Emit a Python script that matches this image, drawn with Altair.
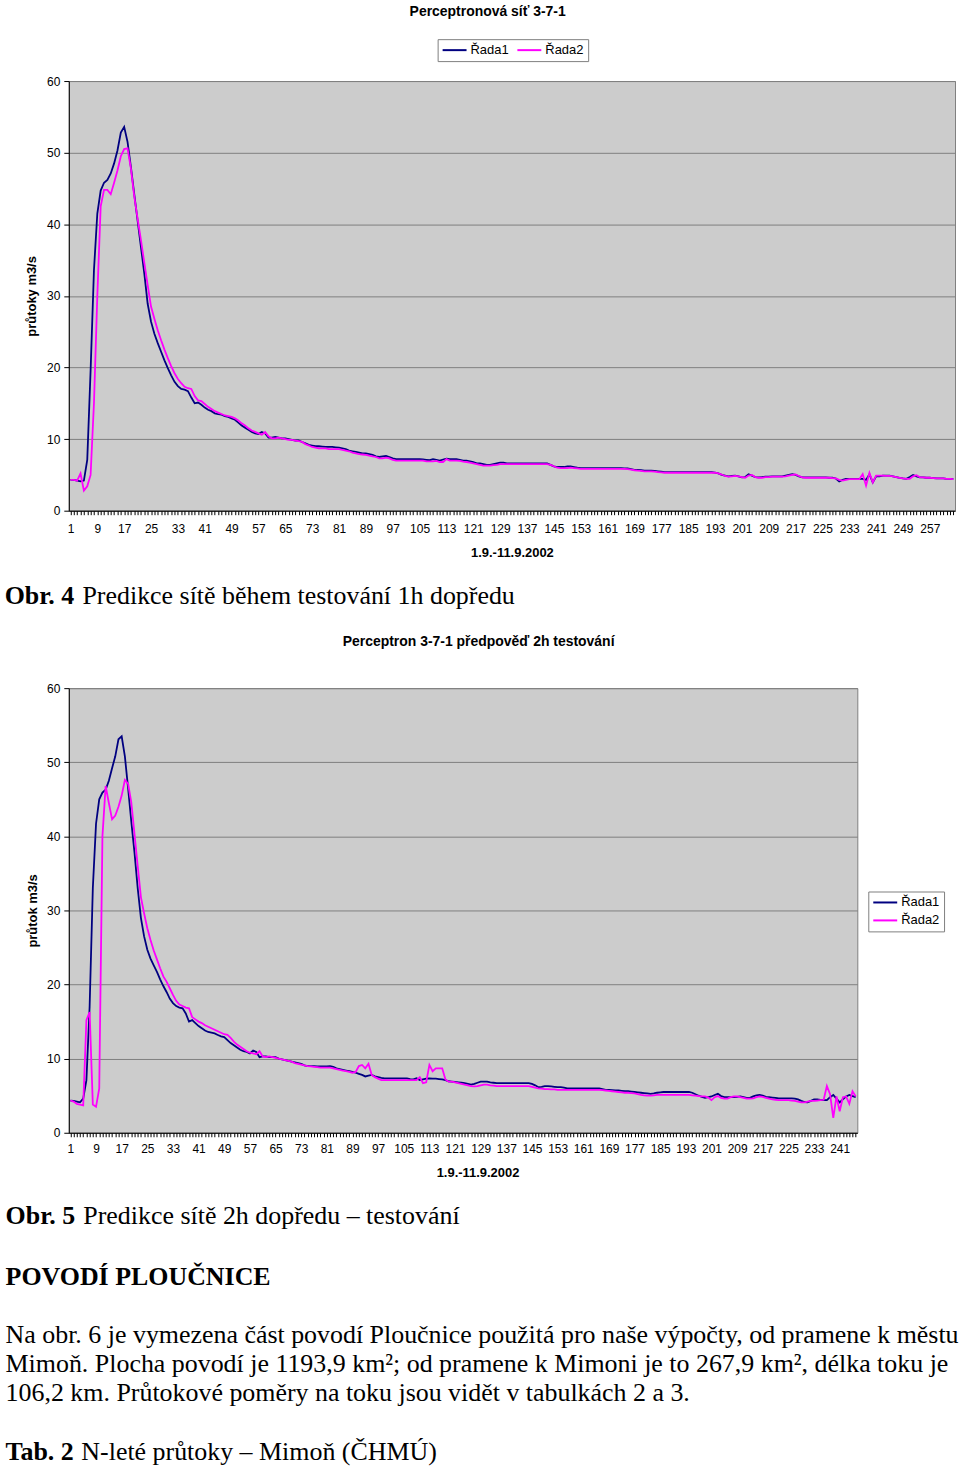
import altair as alt
import pandas as pd

SANS = "Liberation Sans"
SERIF = "Liberation Serif"
NAVY = "#000080"
MAGENTA = "#FF00FF"
PLOT_BG = "#CCCCCC"
GRID = "#808080"

series_names = ["Řada1", "Řada2"]

# ---- Obr. 4 : Perceptronová síť 3-7-1 (1h dopředu), 264 hodin ----
c1_rada1 = [
    4.3, 4.3, 4.2, 4.1, 4.2, 7.1, 19.6, 33.6, 41.5, 44.7,
    45.8, 46.2, 47.1, 48.5, 50.3, 52.8, 53.6, 51.5, 48.0, 44.2,
    40.5, 36.8, 33.1, 28.9, 26.4, 24.7, 23.4, 22.2, 21.0, 19.9,
    18.9, 18.0, 17.4, 17.0, 16.9, 16.7, 15.8, 15.0, 15.1, 14.8,
    14.4, 14.1, 13.9, 13.6, 13.5, 13.4, 13.2, 13.1, 12.9, 12.7,
    12.3, 11.9, 11.6, 11.3, 11.0, 10.8, 10.7, 11.0, 10.8, 10.2,
    10.2, 10.3, 10.2, 10.1, 10.1, 10.0, 9.9, 9.8, 9.8, 9.6,
    9.4, 9.2, 9.1, 9.0, 9.0, 8.95, 8.9, 8.9, 8.9, 8.85,
    8.8, 8.7, 8.6, 8.4, 8.3, 8.2, 8.1, 8.0, 8.0, 7.9,
    7.8, 7.6, 7.5, 7.6, 7.65, 7.5, 7.3, 7.2, 7.2, 7.2,
    7.2, 7.2, 7.2, 7.2, 7.2, 7.15, 7.1, 7.05, 7.2, 7.1,
    7.0, 7.15, 7.25, 7.2, 7.2, 7.2, 7.1, 7.0, 7.0, 6.9,
    6.8, 6.6, 6.6, 6.5, 6.4, 6.4, 6.5, 6.6, 6.7, 6.7,
    6.6, 6.6, 6.6, 6.6, 6.6, 6.6, 6.6, 6.6, 6.6, 6.6,
    6.6, 6.6, 6.6, 6.4, 6.2, 6.1, 6.1, 6.1, 6.2, 6.2,
    6.1, 6.0, 5.95, 5.95, 5.95, 5.95, 5.95, 5.95, 5.95, 5.95,
    5.95, 5.95, 5.95, 5.95, 5.95, 5.9, 5.9, 5.8, 5.7, 5.7,
    5.65, 5.6, 5.6, 5.6, 5.55, 5.5, 5.45, 5.4, 5.4, 5.4,
    5.4, 5.4, 5.4, 5.4, 5.4, 5.4, 5.4, 5.4, 5.4, 5.4,
    5.4, 5.4, 5.3, 5.2, 5.0, 4.9, 4.8, 4.85, 4.9, 4.8,
    4.65, 4.7, 5.1, 4.9, 4.7, 4.65, 4.7, 4.75, 4.75, 4.8,
    4.8, 4.8, 4.8, 4.9, 5.0, 5.1, 5.0, 4.8, 4.65, 4.65,
    4.65, 4.65, 4.65, 4.65, 4.65, 4.65, 4.6, 4.6, 4.5, 4.1,
    4.3, 4.45, 4.45, 4.45, 4.45, 4.45, 4.45, 4.3, 5.1, 3.95,
    4.8, 4.8, 4.9, 4.9, 4.9, 4.8, 4.7, 4.6, 4.5, 4.45,
    4.7, 5.0, 4.8, 4.65, 4.65, 4.6, 4.6, 4.55, 4.5, 4.5,
    4.5, 4.45, 4.45, 4.45,
]
c1_rada2 = [
    4.3, 4.3, 4.2, 5.2, 2.8, 3.4, 5.0, 15.0, 30.0, 42.5,
    44.8, 44.8, 44.2, 45.8, 47.5, 49.5, 50.5, 50.6, 47.8, 43.9,
    40.8, 37.8, 34.6, 31.5, 28.5, 26.8, 25.2, 23.8, 22.5, 21.3,
    20.2, 19.2, 18.4, 17.8, 17.3, 17.1, 17.0, 16.0, 15.4, 15.3,
    14.9, 14.5, 14.2, 13.9, 13.7, 13.5, 13.3, 13.2, 13.1, 12.9,
    12.6, 12.2, 11.9, 11.5, 11.2, 11.0, 10.8, 10.6, 11.0, 10.4,
    10.1, 10.1, 10.2, 10.1, 10.0, 9.9, 9.9, 9.8, 9.7, 9.6,
    9.3, 9.1, 8.9, 8.8, 8.7, 8.7, 8.7, 8.6, 8.6, 8.6,
    8.6, 8.5, 8.4, 8.3, 8.1, 8.0, 7.9, 7.85, 7.8, 7.7,
    7.6, 7.5, 7.3, 7.3, 7.4, 7.3, 7.1, 7.0, 7.0, 7.0,
    7.0, 7.0, 7.0, 7.0, 7.0, 7.0, 6.9, 6.9, 6.9, 6.95,
    6.8, 6.8, 7.2, 7.0, 7.0, 7.0, 6.95, 6.85, 6.8, 6.7,
    6.6, 6.5, 6.4, 6.3, 6.3, 6.3, 6.35, 6.4, 6.5, 6.5,
    6.5, 6.5, 6.5, 6.5, 6.5, 6.5, 6.5, 6.5, 6.5, 6.5,
    6.5, 6.5, 6.5, 6.4, 6.2, 6.0, 5.95, 5.95, 5.95, 6.0,
    5.95, 5.9, 5.85, 5.85, 5.85, 5.85, 5.85, 5.85, 5.85, 5.85,
    5.85, 5.85, 5.85, 5.85, 5.85, 5.85, 5.8, 5.75, 5.65, 5.6,
    5.55, 5.5, 5.5, 5.5, 5.45, 5.4, 5.35, 5.3, 5.3, 5.3,
    5.3, 5.3, 5.3, 5.3, 5.3, 5.3, 5.3, 5.3, 5.3, 5.3,
    5.3, 5.3, 5.3, 5.2, 5.05, 4.85, 4.75, 4.8, 4.85, 4.8,
    4.7, 4.6, 4.9, 5.0, 4.7, 4.6, 4.6, 4.7, 4.7, 4.75,
    4.75, 4.75, 4.75, 4.8, 4.9, 5.0, 5.05, 4.85, 4.65, 4.6,
    4.6, 4.6, 4.6, 4.6, 4.6, 4.6, 4.6, 4.55, 4.5, 4.3,
    4.2, 4.3, 4.4, 4.4, 4.4, 4.4, 5.1, 3.5, 5.3, 3.95,
    4.9, 4.9, 4.9, 4.85, 4.85, 4.8, 4.7, 4.6, 4.5, 4.45,
    4.45, 4.8, 4.95, 4.7, 4.65, 4.6, 4.6, 4.55, 4.5, 4.5,
    4.5, 4.45, 4.45, 4.4,
]

# ---- Obr. 5 : Perceptron 3-7-1 předpověď 2h, 246 hodin ----
c2_rada1 = [
    4.35, 4.3, 4.2, 4.1, 4.6, 7.1, 17.0, 33.0, 41.7, 45.0,
    45.9, 46.3, 47.5, 49.2, 50.8, 53.1, 53.5, 50.8, 46.5, 42.0,
    37.8, 33.0, 29.0, 26.5, 24.7, 23.5, 22.6, 21.7, 20.7, 19.8,
    19.0, 18.1, 17.5, 17.1, 16.9, 16.8, 16.1, 15.0, 15.2, 14.8,
    14.4, 14.1, 13.8, 13.6, 13.5, 13.4, 13.2, 13.0, 12.9, 12.5,
    12.1, 11.8, 11.5, 11.2, 11.0, 10.9, 10.7, 11.1, 10.9, 10.2,
    10.3, 10.3, 10.2, 10.2, 10.2, 10.0, 9.9, 9.8, 9.7, 9.6,
    9.5, 9.4, 9.3, 9.1, 9.0, 9.0, 9.0, 8.95, 8.95, 8.95,
    8.95, 9.0, 8.9, 8.7, 8.6, 8.5, 8.4, 8.3, 8.2, 8.1,
    7.95, 7.8, 7.6, 7.7, 7.8, 7.6, 7.5, 7.4, 7.35, 7.35,
    7.35, 7.35, 7.35, 7.35, 7.35, 7.35, 7.25, 7.2, 7.35, 7.1,
    7.2, 7.3, 7.35, 7.3, 7.3, 7.25, 7.2, 7.1, 6.95, 6.9,
    6.85, 6.8, 6.75, 6.7, 6.6, 6.5, 6.6, 6.75, 6.9, 6.9,
    6.9, 6.8, 6.75, 6.7, 6.7, 6.7, 6.7, 6.7, 6.7, 6.7,
    6.7, 6.7, 6.7, 6.7, 6.6, 6.4, 6.15, 6.2, 6.3, 6.3,
    6.25, 6.2, 6.15, 6.15, 6.1, 6.0, 6.0, 6.0, 6.0, 6.0,
    6.0, 6.0, 6.0, 6.0, 6.0, 6.0, 5.9, 5.8, 5.8, 5.75,
    5.7, 5.7, 5.65, 5.6, 5.6, 5.55, 5.5, 5.45, 5.4, 5.35,
    5.3, 5.25, 5.3, 5.4, 5.45, 5.5, 5.5, 5.5, 5.5, 5.5,
    5.5, 5.5, 5.5, 5.5, 5.4, 5.2, 5.0, 4.85, 4.7, 4.8,
    4.9, 5.1, 5.25, 4.95, 4.8, 4.8, 4.8, 4.8, 4.85, 4.9,
    4.8, 4.7, 4.7, 4.9, 5.05, 5.1, 5.0, 4.85, 4.8, 4.75,
    4.7, 4.65, 4.65, 4.65, 4.65, 4.65, 4.6, 4.5, 4.3, 4.15,
    4.1, 4.3, 4.5, 4.5, 4.45, 4.4, 4.4, 4.8, 5.1, 4.6,
    4.1, 4.5, 4.9, 5.1, 4.95, 4.8,
]
c2_rada2 = [
    4.35, 4.2, 3.9, 3.8, 3.7, 15.2, 16.3, 3.8, 3.5, 6.0,
    40.0, 46.8, 44.5, 42.3, 42.8, 44.0, 45.5, 47.6, 47.1, 44.6,
    40.3, 36.0, 31.8, 29.6, 27.6, 26.0, 24.6, 23.4, 22.2, 21.1,
    20.4, 19.5, 18.6, 17.8, 17.3, 17.1, 16.9, 16.8, 15.6, 15.3,
    15.0, 14.8, 14.5, 14.3, 14.1, 13.9, 13.7, 13.5, 13.3, 13.2,
    12.8, 12.3, 11.9, 11.6, 11.3, 11.0, 10.8, 10.7, 10.6, 11.0,
    10.3, 10.2, 10.3, 10.2, 10.1, 10.0, 9.9, 9.8, 9.7, 9.6,
    9.4, 9.3, 9.2, 9.1, 9.0, 8.95, 8.9, 8.85, 8.8, 8.8,
    8.8, 8.8, 8.7, 8.6, 8.5, 8.4, 8.3, 8.2, 8.1, 8.2,
    9.0, 9.15, 8.7, 9.3, 7.8, 7.5, 7.3, 7.1, 7.1, 7.1,
    7.1, 7.1, 7.1, 7.1, 7.1, 7.1, 7.1, 7.1, 7.1, 7.5,
    6.7, 6.8, 9.15, 8.3, 8.7, 8.7, 8.7, 7.2, 6.9, 6.9,
    6.8, 6.7, 6.6, 6.5, 6.4, 6.3, 6.25, 6.3, 6.4, 6.5,
    6.5, 6.4, 6.35, 6.3, 6.3, 6.3, 6.3, 6.3, 6.3, 6.3,
    6.3, 6.3, 6.3, 6.3, 6.2, 6.1, 6.0, 5.95, 5.9, 5.9,
    5.85, 5.85, 5.8, 5.8, 5.8, 5.8, 5.8, 5.8, 5.8, 5.8,
    5.8, 5.8, 5.8, 5.8, 5.8, 5.8, 5.75, 5.7, 5.65, 5.6,
    5.55, 5.5, 5.45, 5.4, 5.4, 5.35, 5.3, 5.2, 5.1, 5.05,
    5.0, 5.0, 5.05, 5.1, 5.1, 5.1, 5.1, 5.1, 5.1, 5.1,
    5.1, 5.1, 5.1, 5.1, 5.05, 5.0, 4.95, 4.9, 4.9, 4.75,
    4.4, 4.8, 4.95, 4.7, 4.6, 4.6, 4.8, 4.9, 4.9, 4.8,
    4.7, 4.6, 4.6, 4.65, 4.8, 4.9, 4.85, 4.7, 4.6, 4.5,
    4.45, 4.4, 4.4, 4.4, 4.4, 4.35, 4.3, 4.2, 4.1, 4.1,
    4.2, 4.3, 4.3, 4.35, 4.4, 4.45, 6.3, 5.2, 2.0, 4.9,
    2.9, 4.8, 4.9, 3.9, 5.6, 4.9,
]

y_ticks = [0, 10, 20, 30, 40, 50, 60]
c1_x_labels = list(range(1, 258, 8))
c2_x_labels = list(range(1, 242, 8))

TEXT_SIZE = 26


def long_df(a, b):
    n = len(a)
    return pd.DataFrame({
        "i": list(range(1, n + 1)) * 2,
        "v": a + b,
        "s": [series_names[0]] * n + [series_names[1]] * n,
    })


def txt(s, x, y, size, bold=False, font=SERIF, align="left"):
    return alt.Chart(pd.DataFrame({"k": [0]})).mark_text(
        text=s, font=font, fontSize=size,
        fontWeight="bold" if bold else "normal",
        align=align, baseline="alphabetic", color="black",
    ).encode(x=alt.value(x), y=alt.value(y))


def line_layer(r1, r2, height, x_labels, y_title, y_title_x, x_title_x,
               x_title_y, x_label_pad, legend):
    n = len(r1)
    df = long_df(r1, r2)
    lab_arr = "[" + ",".join(str(v) for v in x_labels) + "]"
    x = alt.X(
        "i:Q",
        scale=alt.Scale(domain=[0.5, n + 0.5], nice=False, zero=False),
        axis=alt.Axis(
            values=list(range(1, n + 1)), format="d",
            labelExpr=f"indexof({lab_arr}, datum.value) >= 0 ? datum.label : ''",
            labelOverlap=False, labelFlush=False, labelBound=False,
            labelFont=SANS, labelFontSize=12, labelColor="black",
            labelPadding=x_label_pad, tickSize=4, tickColor="#000000",
            domainColor="#000000", grid=False,
            title="1.9.-11.9.2002", titleFont=SANS, titleFontSize=13,
            titleFontWeight="bold", titleColor="black",
            titleX=x_title_x, titleY=x_title_y, titleBaseline="middle",
            titleAlign="center",
        ),
    )
    y = alt.Y(
        "v:Q",
        scale=alt.Scale(domain=[0, 60], nice=False),
        axis=alt.Axis(
            values=y_ticks, grid=True, gridColor=GRID, gridWidth=1,
            labelFont=SANS, labelFontSize=12, labelColor="black",
            labelPadding=4, tickSize=5, tickColor="#000000",
            domainColor="#000000",
            title=y_title, titleFont=SANS, titleFontSize=13,
            titleFontWeight="bold", titleColor="black",
            titleX=y_title_x, titleY=height / 2, titleAngle=270,
            titleAlign="center", titleBaseline="middle",
        ),
    )
    color = alt.Color(
        "s:N",
        scale=alt.Scale(domain=series_names, range=[NAVY, MAGENTA]),
        legend=legend,
    )
    return alt.Chart(df).mark_line(strokeWidth=1.8).encode(x=x, y=y, color=color)


def make_legend(lx, ly, direction):
    # short line symbol: path spans 24 px while the layout slot stays 12 px
    return alt.Legend(
        orient="none", legendX=lx, legendY=ly, direction=direction,
        title=None, symbolType="M-1,0H3", symbolSize=144, symbolStrokeWidth=2,
        labelFont=SANS, labelFontSize=13, labelColor="black", labelOffset=15,
        strokeColor="#808080", fillColor="white", padding=4,
        columnPadding=4, rowPadding=4,
    )


# ---- panel 1 ----
W1, H1 = 889, 431
OX1, OY1 = 68.3, 80
lines1 = line_layer(
    c1_rada1, c1_rada2, H1, c1_x_labels, "průtoky m3/s",
    y_title_x=-37.3, x_title_x=W1 / 2, x_title_y=42, x_label_pad=9,
    legend=make_legend(370, -42, "horizontal"),
)
panel1 = alt.layer(
    lines1,
    txt("Perceptronová síť 3-7-1", 488.5 - OX1, 14.5 - OY1, 14, True, SANS, "center"),
    txt("Obr. 4", 4 - OX1, 605 - OY1, TEXT_SIZE, True),
    txt("Predikce sítě během testování 1h dopředu", 82 - OX1, 605 - OY1, TEXT_SIZE),
).properties(
    width=W1, height=H1,
    view=alt.ViewBackground(fill=PLOT_BG, stroke=GRID, strokeWidth=1),
)

# ---- panel 2 ----
W2, H2 = 791, 446
OX2, OY2 = 67.4, 687
lines2 = line_layer(
    c2_rada1, c2_rada2, H2, c2_x_labels, "průtok m3/s",
    y_title_x=-36.4, x_title_x=410, x_title_y=40, x_label_pad=7,
    legend=make_legend(802, 204, "vertical"),
)
panel2 = alt.layer(
    lines2,
    txt("Perceptron 3-7-1 předpověď 2h testování", 478.5 - OX2, 645 - OY2, 14, True, SANS, "center"),
    txt("Obr. 5", 4 - OX2, 1225 - OY2, TEXT_SIZE, True),
    txt("Predikce sítě 2h dopředu – testování", 82 - OX2, 1225 - OY2, TEXT_SIZE),
    txt("POVODÍ PLOUČNICE", 4 - OX2, 1286 - OY2, TEXT_SIZE, True),
    txt("Na obr. 6 je vymezena část povodí Ploučnice použitá pro naše výpočty, od pramene k městu",
        4 - OX2, 1344 - OY2, TEXT_SIZE),
    txt("Mimoň. Plocha povodí je 1193,9 km²; od pramene k Mimoni je to 267,9 km², délka toku je",
        4 - OX2, 1373 - OY2, TEXT_SIZE),
    txt("106,2 km. Průtokové poměry na toku jsou vidět v tabulkách 2 a 3.",
        4 - OX2, 1402 - OY2, TEXT_SIZE),
    txt("Tab. 2", 4 - OX2, 1461 - OY2, TEXT_SIZE, True),
    txt("N-leté průtoky – Mimoň (ČHMÚ)", 80 - OX2, 1461 - OY2, TEXT_SIZE),
).properties(
    width=W2, height=H2,
    view=alt.ViewBackground(fill=PLOT_BG, stroke=GRID, strokeWidth=1),
)

chart = alt.vconcat(panel1, panel2, spacing=24).properties(
    padding={"left": 4, "top": 2, "right": 0, "bottom": 0},
    background="white",
).resolve_scale(x="independent", y="independent", color="independent")

chart.save("out.html", embed_options={"renderer": "svg", "actions": False})
